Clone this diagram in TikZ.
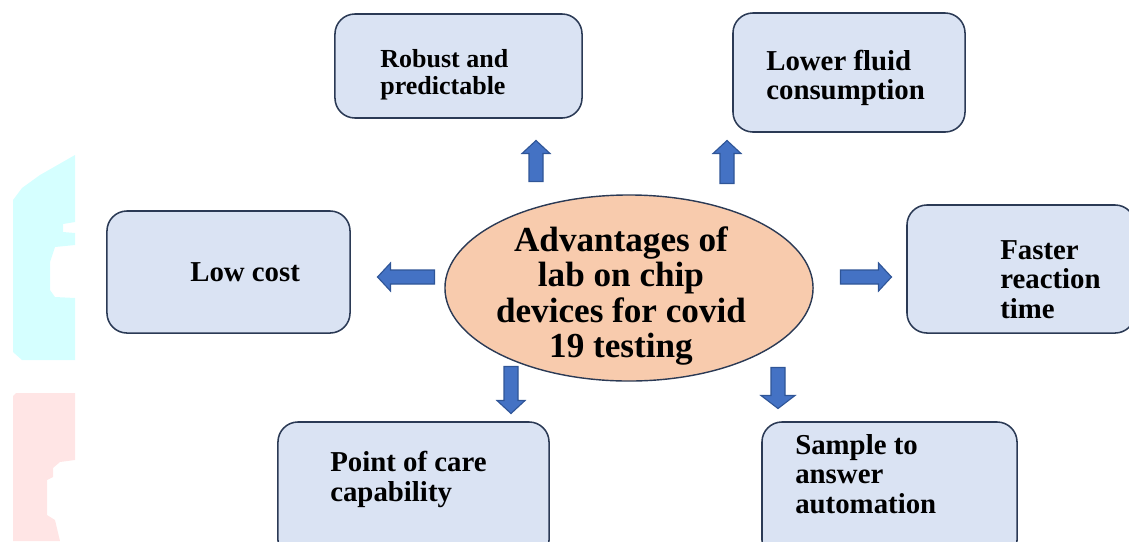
\documentclass[tikz,border=0pt]{standalone}
\usepackage{fontspec}
\setmainfont{Liberation Serif}
\usetikzlibrary{shapes.geometric}

\definecolor{boxfill}{HTML}{DAE3F3}
\definecolor{boxedge}{HTML}{2B3A55}
\definecolor{hubfill}{HTML}{F8CBAD}
\definecolor{arrowfill}{HTML}{4472C4}
\definecolor{arrowedge}{HTML}{2F5597}
\definecolor{markcyan}{HTML}{D5FFFF}
\definecolor{markpink}{HTML}{FFE5E5}

\begin{document}
\begin{tikzpicture}[x=0.025cm,y=-0.025cm,
		benefit/.style={draw=boxedge,fill=boxfill,line width=1.1pt,rounded corners=0.5cm,
			rectangle,inner sep=0pt},
		benefittext/.style={anchor=west,align=left,inner sep=0pt,
			font=\bfseries\fontsize{20.5}{21}\selectfont},
		hub/.style={draw=boxedge,fill=hubfill,line width=1pt,ellipse,inner sep=0pt,
			minimum width=9.2cm,minimum height=4.65cm},
		hubtext/.style={align=center,inner sep=0pt,font=\bfseries\fontsize{25}{25}\selectfont},
		arrowbody/.style={draw=arrowedge,fill=arrowfill,line width=0.8pt},
		pics/blockarrow/.style 2 args={code={
			\draw[arrowbody] ({-#1/2},-7) -- ({#1/2-13},-7) -- ({#1/2-13},{-#2})
				-- ({#1/2},0) -- ({#1/2-13},{#2}) -- ({#1/2-13},7) -- ({-#1/2},7) -- cycle;
		}}]
	\useasboundingbox (0,0) rectangle (1129,541);
	\clip (0,0) rectangle (1129,541);

	% faded marks on the left edge
	\fill[markcyan] (13,200) -- (22,188) -- (40,175) -- (75,155) -- (75,222) -- (63,224)
		-- (63,232) -- (75,233) -- (75,245) -- (55,247) -- (50,262) -- (50,290) -- (55,297)
		-- (75,298) -- (75,360) -- (22,360) -- (13,352) -- cycle;
	\fill[markpink] (13,396) -- (16,393) -- (75,393) -- (75,460) -- (60,462) -- (53,468)
		-- (53,477) -- (47,480) -- (47,515) -- (55,520) -- (60,541) -- (13,541) -- cycle;

	% centre
	\node[hub] (hub) at (629,288) {};
	\node[hubtext] (hubtxt) at (621,296) {Advantages of\\lab on chip\\devices for covid\\19 testing};

	% boxes
	\node[benefit,minimum width=6.175cm,minimum height=2.6cm] (robust) at (458.5,66) {};
	\node[benefittext,font=\bfseries\fontsize{18.5}{19}\selectfont] (robusttxt) at (380,74.5)
		{Robust and\\predictable};
	\node[benefit,minimum width=5.8cm,minimum height=2.975cm] (fluid) at (849,72.5) {};
	\node[benefittext] (fluidtxt) at (766,78) {Lower fluid\\consumption};
	\node[benefit,minimum width=6.075cm,minimum height=3.05cm] (cost) at (228.5,272) {};
	\node[benefittext] (costtxt) at (190,272) {Low cost};
	\node[benefit,minimum width=5.7cm,minimum height=3.2cm] (faster) at (1021,269) {};
	\node[benefittext] (fastertxt) at (1000,279.5) {Faster\\reaction\\time};
	\node[benefit,minimum width=6.775cm,minimum height=3.45cm] (care) at (413.5,491) {};
	\node[benefittext] (caretxt) at (330,479.5) {Point of care\\capability};
	\node[benefit,minimum width=6.375cm,minimum height=3.45cm] (sample) at (889.5,491) {};
	\node[benefittext] (sampletxt) at (795,474) {Sample to\\answer\\automation};

	% block arrows
	\pic[rotate=90] at (536,161) {blockarrow={41}{14}};
	\pic[rotate=90] at (727,162) {blockarrow={43}{14}};
	\pic[rotate=180] at (406,277) {blockarrow={57}{14}};
	\pic at (866,277) {blockarrow={51}{14}};
	\pic[rotate=-90] at (511,390) {blockarrow={47}{14}};
	\pic[rotate=-90] at (778,388) {blockarrow={41}{17}};
\end{tikzpicture}
\end{document}
